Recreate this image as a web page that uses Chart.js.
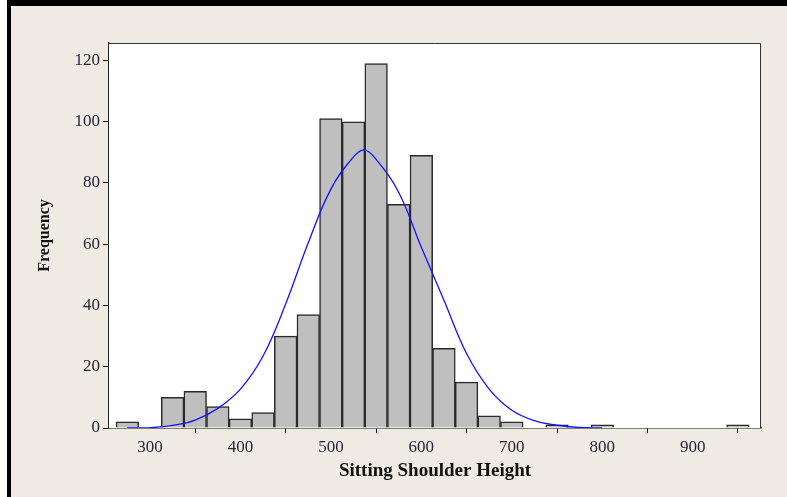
<html>
<head>
<script src="https://cdn.jsdelivr.net/npm/chart.js"></script>
<style>
body { margin:0; background:#fff; }
#frame { position:absolute; left:7px; top:0; width:780px; height:497px; box-sizing:border-box;
         border-top:6px solid #000; border-left:4px solid #000; background:#f0ebe2; }
#wrap { position:absolute; left:0; top:0; width:787px; height:497px; }
</style>
</head>
<body>
<div id="frame"></div>
<div id="wrap"><canvas id="myChart" width="787" height="497"></canvas></div>

<script>
// histogram bins (bin centres, width 25) and counts
binCenters = [275,300,325,350,375,400,425,450,475,500,525,550,575,600,625,650,675,700,725,750,775,800,825,850,875,900,925,950]
counts     = [2,0,10,12,7,3,5,30,37,101,100,119,73,89,26,15,4,2,0,1,0,1,0,0,0,0,0,1]

// fitted normal curve
curveX = [275,300,325,350,375,400,425,450,475,500,525,537,550,575,600,625,650,675,700,725,750,775,800]
curveY = [0,0.1,0.85,2.6,6.4,12.7,23.5,40.5,60.5,78,88.5,90.8,87.7,76.9,59,41.7,24.3,12.7,5.8,2.4,0.9,0.2,0]

xTicks = [300,400,500,600,700,800,900]
yTicks = [0,20,40,60,80,100,120]

barData = binCenters.map((c,i) => ({x:c, y:counts[i]}))
lineData = curveX.map((c,i) => ({x:c, y:curveY[i]}))

const plotBox = {
  id: 'plotBox',
  beforeDatasetsDraw(chart) {
    const a = chart.chartArea, ctx = chart.ctx
    ctx.save()
    ctx.fillStyle = '#fff'
    ctx.fillRect(a.left, a.top, a.right-a.left, a.bottom-a.top)
    ctx.restore()
  },
  afterDraw(chart) {
    const a = chart.chartArea, ctx = chart.ctx
    ctx.save()
    ctx.strokeStyle = '#333'
    ctx.lineWidth = 1
    ctx.beginPath()
    ctx.moveTo(a.left, a.top+0.5); ctx.lineTo(a.right-0.5, a.top+0.5); ctx.lineTo(a.right-0.5, a.bottom)
    ctx.stroke()
    ctx.restore()
  }
}

const tickFont = { family:'Liberation Serif', size:17 }
const titleFont = { family:'Liberation Serif', size:19, weight:'bold' }

new Chart(document.getElementById('myChart'), {
  type: 'bar',
  data: {
    datasets: [
      { type:'line', data: lineData, borderColor:'#1414ff', borderWidth:1.3, pointRadius:0,
        tension:0.4, fill:false, order:0 },
      { type:'bar', data: barData, backgroundColor:'#bfbfbf', borderColor:'#2a2a2a', borderWidth:1.5,
        barPercentage:1, categoryPercentage:1, order:1 }
    ]
  },
  options: {
    responsive: false,
    animation: false,
    layout: { padding: { left:0, top:43, right:26, bottom:0 } },
    plugins: { legend:{display:false}, tooltip:{enabled:false} },
    scales: {
      x: {
        type:'linear', offset:false, min:254.7, max:975.5,
        afterBuildTicks: s => { s.ticks = xTicks.map(v => ({value:v})) },
        afterFit: s => { s.height = 69 },
        grid: { drawOnChartArea:false, tickLength:5, color:'#111' },
        border: { color:'#111', width:1.5 },
        ticks: { font:tickFont, color:'#26263a', padding:4, maxRotation:0 },
        title: { display:true, text:'Sitting Shoulder Height', font:titleFont, color:'#111',
                 padding:{top:0, bottom:15} }
      },
      y: {
        min:0, max:125.7,
        afterBuildTicks: s => { s.ticks = yTicks.map(v => ({value:v})) },
        afterFit: s => { s.width = 109 },
        grid: { drawOnChartArea:false, tickLength:6, color:'#111' },
        border: { color:'#222', width:1.5 },
        ticks: { font:tickFont, color:'#26263a', padding:3 },
        title: { display:true, text:'Frequency', font:{family:'Liberation Serif', size:16, weight:'bold'},
                 color:'#111', padding:{top:35, bottom:0} }
      }
    }
  },
  plugins: [plotBox]
})
</script>
</body>
</html>
